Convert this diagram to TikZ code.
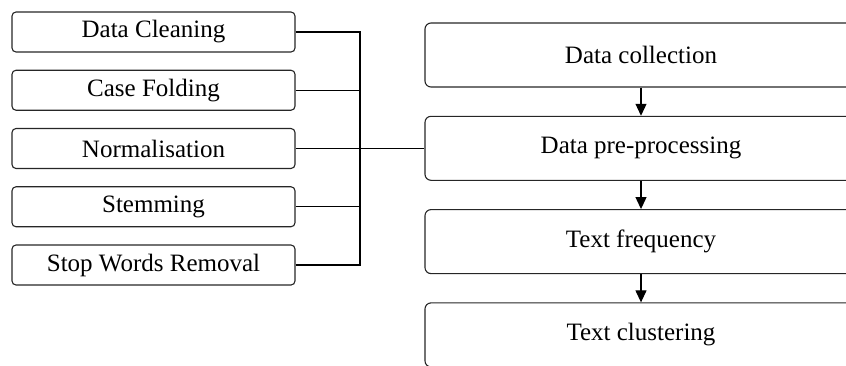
\documentclass[tikz,border=0pt]{standalone}
\usepackage{fontspec}
\setmainfont{Liberation Serif}
\usetikzlibrary{arrows.meta}

\tikzset{
  substep/.style={draw=black!85, line width=1.1pt, rounded corners=4pt,
    minimum width=283pt, minimum height=40pt, inner sep=0pt},
  stage/.style={draw=black!85, line width=1.1pt, rounded corners=6pt,
    minimum width=432pt, minimum height=64pt, inner sep=0pt},
  flow/.style={line width=1.2pt, -{Triangle[width=11pt,length=12pt]}}
}

\begin{document}
\begin{tikzpicture}[x=1pt, y=-1pt, font=\fontsize{25}{29}\selectfont]
  \clip (0,0) rectangle (846,365);

  \foreach \i/\t in {1/Data collection, 2/Data pre-processing,
                     3/Text frequency, 4/Text clustering} {
    \node[stage] (stage-\i) at (641, 55+93.3*\i-93.3) {\t};
  }

  \foreach \from/\to in {1/2, 2/3, 3/4} {
    \draw[flow] (stage-\from) -- (stage-\to);
  }

  \foreach \i/\t in {1/Data Cleaning, 2/Case Folding, 3/Normalisation,
                     4/Stemming, 5/Stop Words Removal} {
    \node[substep] (pre-\i) at (153.5, 32+58.25*\i-58.25) {\t};
  }

  \coordinate (bus) at (360,148.3);
  \foreach \i in {1,...,5} {
    \draw[line width=1.4pt] (pre-\i.east) -| (bus);
  }
  \draw[line width=1.6pt] (bus) -- (stage-2.west);
\end{tikzpicture}
\end{document}
